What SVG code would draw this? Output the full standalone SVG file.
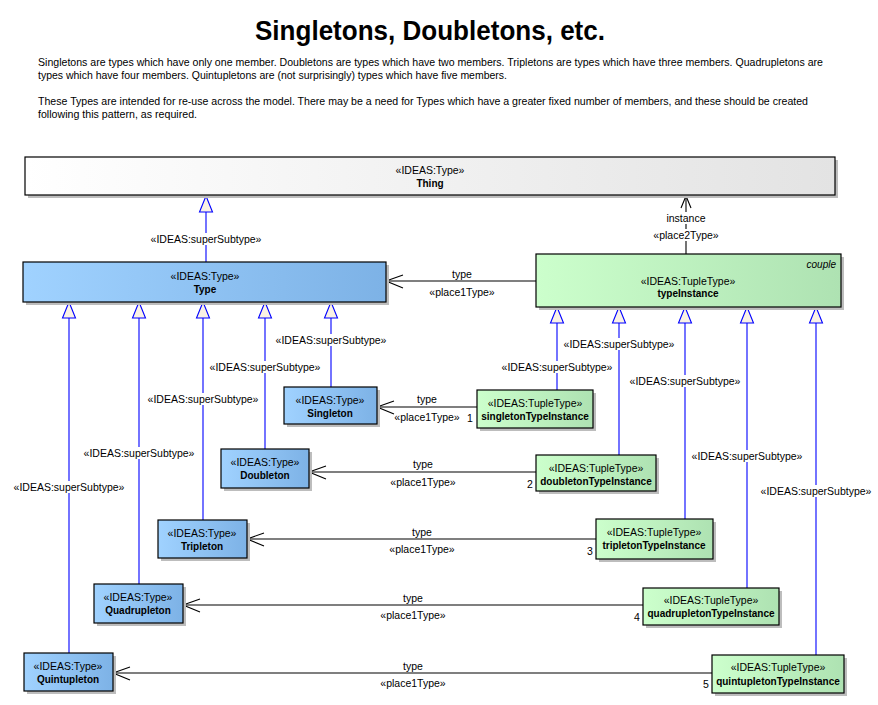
<svg xmlns="http://www.w3.org/2000/svg" width="878" height="705" viewBox="0 0 878 705">
<defs>
<linearGradient id="gThing" x1="0" y1="0" x2="1" y2="0"><stop offset="0" stop-color="#ffffff"/><stop offset="1" stop-color="#e3e3e3"/></linearGradient>
<linearGradient id="gType" x1="0" y1="0" x2="1" y2="0"><stop offset="0" stop-color="#a0d2ff"/><stop offset="1" stop-color="#7db2e6"/></linearGradient>
<linearGradient id="gTuple" x1="0" y1="0" x2="1" y2="0"><stop offset="0" stop-color="#ccffcc"/><stop offset="1" stop-color="#aee2b2"/></linearGradient>
<path id="tri" d="M0,0 L6.5,16 L-6.5,16 Z"/>
</defs>
<style>
text{font-family:"Liberation Sans",Arial,sans-serif;fill:#000}
.title{font-size:27px;font-weight:bold}
.para{font-size:11px}
.st{font-size:10.5px;text-anchor:middle}
.nm{font-size:10px;font-weight:bold;text-anchor:middle}
.lbl{font-size:10.5px;text-anchor:middle}
.sh{fill:#bdbdbd}
.box{stroke:#000;stroke-width:1.2}
.gen{stroke:#0000ff;stroke-width:1.1;fill:none}
.tri{fill:#faf2e4;stroke:#0000ff;stroke-width:1.1}
.asc{stroke:#000;stroke-width:1.1;fill:none}
.bg{fill:#fff}
</style>
<rect width="878" height="705" fill="#fff"/>
<text class="title" x="255" y="40" textLength="350" lengthAdjust="spacingAndGlyphs">Singletons, Doubletons, etc.</text>
<text class="para" x="38" y="66" textLength="785" lengthAdjust="spacingAndGlyphs">Singletons are types which have only one member. Doubletons are types which have two members. Tripletons are types which have three members. Quadrupletons are</text>
<text class="para" x="38" y="79" textLength="469" lengthAdjust="spacingAndGlyphs">types which have four members. Quintupletons are (not surprisingly) types which have five members.</text>
<text class="para" x="38" y="105" textLength="770" lengthAdjust="spacingAndGlyphs">These Types are intended for re-use across the model. There may be a need for Types which have a greater fixed number of members, and these should be created</text>
<text class="para" x="38" y="118" textLength="159" lengthAdjust="spacingAndGlyphs">following this pattern, as required.</text>

<g id="connectors">
<line class="gen" x1="206" y1="262" x2="206" y2="212"/>
<line class="gen" x1="69" y1="653" x2="69" y2="318"/>
<line class="gen" x1="139" y1="584" x2="139" y2="318"/>
<line class="gen" x1="203" y1="520" x2="203" y2="318"/>
<line class="gen" x1="265" y1="449" x2="265" y2="318"/>
<line class="gen" x1="331" y1="387" x2="331" y2="318"/>
<line class="gen" x1="557" y1="390" x2="557" y2="323"/>
<line class="gen" x1="619" y1="455" x2="619" y2="323"/>
<line class="gen" x1="685" y1="519" x2="685" y2="323"/>
<line class="gen" x1="747" y1="588" x2="747" y2="323"/>
<line class="gen" x1="816" y1="655" x2="816" y2="323"/>
<use href="#tri" class="tri" x="206" y="196"/>
<use href="#tri" class="tri" x="69" y="302"/>
<use href="#tri" class="tri" x="139" y="302"/>
<use href="#tri" class="tri" x="203" y="302"/>
<use href="#tri" class="tri" x="265" y="302"/>
<use href="#tri" class="tri" x="331" y="302"/>
<use href="#tri" class="tri" x="557" y="307"/>
<use href="#tri" class="tri" x="619" y="307"/>
<use href="#tri" class="tri" x="685" y="307"/>
<use href="#tri" class="tri" x="747" y="307"/>
<use href="#tri" class="tri" x="816" y="307"/>
<rect class="bg" x="150" y="233" width="112" height="12"/><text class="lbl" x="206" y="243">«IDEAS:superSubtype»</text>
<rect class="bg" x="13" y="481" width="112" height="12"/><text class="lbl" x="69" y="491">«IDEAS:superSubtype»</text>
<rect class="bg" x="83" y="447" width="112" height="12"/><text class="lbl" x="139" y="457">«IDEAS:superSubtype»</text>
<rect class="bg" x="147" y="393" width="112" height="12"/><text class="lbl" x="203" y="403">«IDEAS:superSubtype»</text>
<rect class="bg" x="209" y="361" width="112" height="12"/><text class="lbl" x="265" y="371">«IDEAS:superSubtype»</text>
<rect class="bg" x="275" y="334" width="112" height="12"/><text class="lbl" x="331" y="344">«IDEAS:superSubtype»</text>
<rect class="bg" x="501" y="361" width="112" height="12"/><text class="lbl" x="557" y="371">«IDEAS:superSubtype»</text>
<rect class="bg" x="563" y="338" width="112" height="12"/><text class="lbl" x="619" y="348">«IDEAS:superSubtype»</text>
<rect class="bg" x="629" y="375" width="112" height="12"/><text class="lbl" x="685" y="385">«IDEAS:superSubtype»</text>
<rect class="bg" x="691" y="450" width="112" height="12"/><text class="lbl" x="747" y="460">«IDEAS:superSubtype»</text>
<rect class="bg" x="760" y="485" width="112" height="12"/><text class="lbl" x="816" y="495">«IDEAS:superSubtype»</text>
<line class="asc" x1="686" y1="254" x2="686" y2="196"/>
<path class="asc" d="M681,208 L686,196 L691,208"/>
<rect class="bg" x="664" y="212" width="44" height="12"/><text class="lbl" x="686" y="222">instance</text>
<rect class="bg" x="652" y="229" width="68" height="12"/><text class="lbl" x="686" y="239">«place2Type»</text>
<line class="asc" x1="536" y1="281" x2="386" y2="281"/>
<path class="asc" d="M403,275 L386,281 L403,288"/>
<text class="lbl" x="462" y="278">type</text>
<text class="lbl" x="462" y="296">«place1Type»</text>
<line class="asc" x1="477" y1="407" x2="377" y2="407"/>
<path class="asc" d="M394,401 L377,407 L394,414"/>
<text class="lbl" x="427" y="403">type</text>
<text class="lbl" x="427" y="421">«place1Type»</text>
<text class="lbl" x="470" y="422">1</text>
<line class="asc" x1="536" y1="472" x2="309" y2="472"/>
<path class="asc" d="M326,466 L309,472 L326,479"/>
<text class="lbl" x="423" y="468">type</text>
<text class="lbl" x="423" y="486">«place1Type»</text>
<text class="lbl" x="530" y="488">2</text>
<line class="asc" x1="596" y1="539" x2="247" y2="539"/>
<path class="asc" d="M264,533 L247,539 L264,546"/>
<text class="lbl" x="422" y="536">type</text>
<text class="lbl" x="422" y="553">«place1Type»</text>
<text class="lbl" x="590" y="555">3</text>
<line class="asc" x1="643" y1="605" x2="183" y2="605"/>
<path class="asc" d="M200,599 L183,605 L200,612"/>
<text class="lbl" x="413" y="602">type</text>
<text class="lbl" x="413" y="619">«place1Type»</text>
<text class="lbl" x="637" y="621">4</text>
<line class="asc" x1="712" y1="673" x2="113" y2="673"/>
<path class="asc" d="M130,667 L113,673 L130,680"/>
<text class="lbl" x="413" y="670">type</text>
<text class="lbl" x="413" y="687">«place1Type»</text>
<text class="lbl" x="706" y="688">5</text>
</g>

<g id="Thing">
<rect class="sh" x="28" y="160" width="810" height="38"/>
<rect class="box" x="25" y="157" width="810" height="38" fill="url(#gThing)"/>
<text class="st" x="430" y="174">«IDEAS:Type»</text>
<text class="nm" x="430" y="187">Thing</text>
</g>
<g id="Type">
<rect class="sh" x="26" y="265" width="363" height="40"/>
<rect class="box" x="23" y="262" width="363" height="40" fill="url(#gType)"/>
<text class="st" x="205" y="280">«IDEAS:Type»</text>
<text class="nm" x="205" y="293">Type</text>
</g>
<g id="typeInstance">
<rect class="sh" x="539" y="257" width="305" height="53"/>
<rect class="box" x="536" y="254" width="305" height="53" fill="url(#gTuple)"/>
<text x="836" y="268" font-size="10" font-style="italic" text-anchor="end">couple</text>
<text class="st" x="688" y="285">«IDEAS:TupleType»</text>
<text class="nm" x="688" y="297">typeInstance</text>
</g>
<g id="Singleton">
<rect class="sh" x="287" y="390" width="93" height="37"/>
<rect class="box" x="284" y="387" width="93" height="37" fill="url(#gType)"/>
<text class="st" x="330" y="404">«IDEAS:Type»</text>
<text class="nm" x="330" y="417">Singleton</text>
</g>
<g id="singletonTypeInstance">
<rect class="sh" x="480" y="393" width="116" height="38"/>
<rect class="box" x="477" y="390" width="116" height="38" fill="url(#gTuple)"/>
<text class="st" x="535" y="407">«IDEAS:TupleType»</text>
<text class="nm" x="535" y="420">singletonTypeInstance</text>
</g>
<g id="Doubleton">
<rect class="sh" x="224" y="452" width="88" height="39"/>
<rect class="box" x="221" y="449" width="88" height="39" fill="url(#gType)"/>
<text class="st" x="265" y="466">«IDEAS:Type»</text>
<text class="nm" x="265" y="479">Doubleton</text>
</g>
<g id="doubletonTypeInstance">
<rect class="sh" x="539" y="458" width="120" height="36"/>
<rect class="box" x="536" y="455" width="120" height="36" fill="url(#gTuple)"/>
<text class="st" x="596" y="472">«IDEAS:TupleType»</text>
<text class="nm" x="596" y="485">doubletonTypeInstance</text>
</g>
<g id="Tripleton">
<rect class="sh" x="161" y="523" width="89" height="38"/>
<rect class="box" x="158" y="520" width="89" height="38" fill="url(#gType)"/>
<text class="st" x="202" y="537">«IDEAS:Type»</text>
<text class="nm" x="202" y="550">Tripleton</text>
</g>
<g id="tripletonTypeInstance">
<rect class="sh" x="599" y="522" width="117" height="40"/>
<rect class="box" x="596" y="519" width="117" height="40" fill="url(#gTuple)"/>
<text class="st" x="654" y="536">«IDEAS:TupleType»</text>
<text class="nm" x="654" y="549">tripletonTypeInstance</text>
</g>
<g id="Quadrupleton">
<rect class="sh" x="97" y="587" width="89" height="39"/>
<rect class="box" x="94" y="584" width="89" height="39" fill="url(#gType)"/>
<text class="st" x="138" y="601">«IDEAS:Type»</text>
<text class="nm" x="138" y="614">Quadrupleton</text>
</g>
<g id="quadrupletonTypeInstance">
<rect class="sh" x="646" y="591" width="136" height="37"/>
<rect class="box" x="643" y="588" width="136" height="37" fill="url(#gTuple)"/>
<text class="st" x="711" y="604">«IDEAS:TupleType»</text>
<text class="nm" x="711" y="617">quadrupletonTypeInstance</text>
</g>
<g id="Quintupleton">
<rect class="sh" x="27" y="656" width="89" height="38"/>
<rect class="box" x="24" y="653" width="89" height="38" fill="url(#gType)"/>
<text class="st" x="68" y="670">«IDEAS:Type»</text>
<text class="nm" x="68" y="683">Quintupleton</text>
</g>
<g id="quintupletonTypeInstance">
<rect class="sh" x="715" y="658" width="132" height="38"/>
<rect class="box" x="712" y="655" width="132" height="38" fill="url(#gTuple)"/>
<text class="st" x="778" y="671">«IDEAS:TupleType»</text>
<text class="nm" x="778" y="685">quintupletonTypeInstance</text>
</g>
</svg>
